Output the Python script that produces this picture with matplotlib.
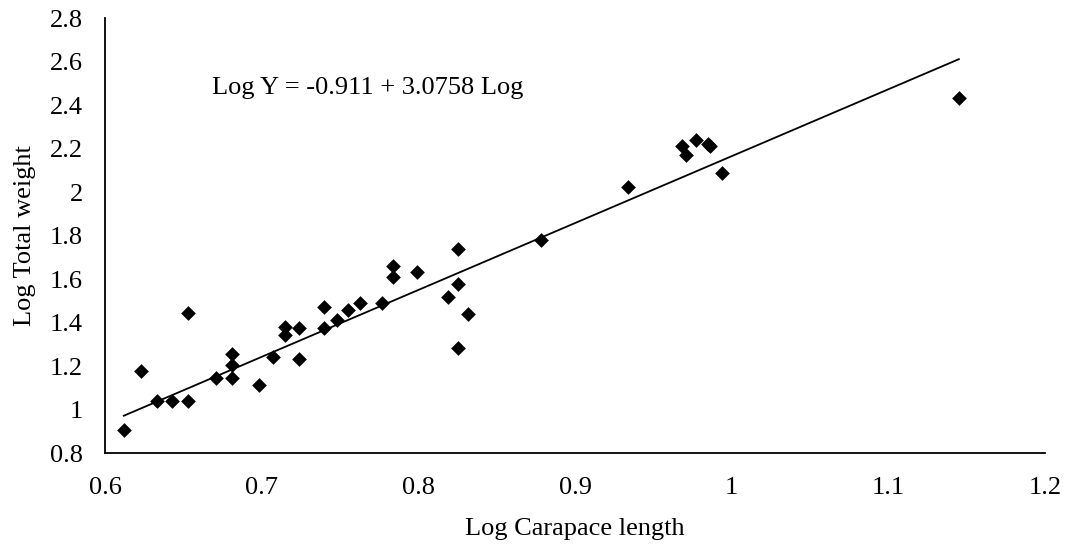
import matplotlib
matplotlib.use("Agg")
import matplotlib.pyplot as plt
import numpy as np

# Log carapace length vs log total weight
log_cl = [0.612, 0.623, 0.633, 0.643, 0.653, 0.653, 0.671, 0.681, 0.681, 0.681,
          0.698, 0.707, 0.715, 0.715, 0.724, 0.724, 0.740, 0.740, 0.748, 0.755,
          0.763, 0.777, 0.784, 0.784, 0.799, 0.819, 0.825, 0.825, 0.825, 0.832,
          0.878, 0.934, 0.968, 0.971, 0.977, 0.985, 0.986, 0.994, 1.145]
log_tw = [0.906, 1.177, 1.040, 1.040, 1.040, 1.445, 1.146, 1.146, 1.205, 1.255,
          1.113, 1.243, 1.378, 1.343, 1.373, 1.231, 1.473, 1.373, 1.411, 1.457,
          1.491, 1.491, 1.660, 1.611, 1.634, 1.519, 1.737, 1.576, 1.281, 1.438,
          1.779, 2.023, 2.211, 2.170, 2.239, 2.221, 2.212, 2.087, 2.431]

# regression from the equation printed on the chart
intercept = -0.911
slope = 3.0758
eq_label = "Log Y = -0.911 + 3.0758 Log"

x_ticks = [0.6, 0.7, 0.8, 0.9, 1.0, 1.1, 1.2]
x_tick_labels = ["0.6", "0.7", "0.8", "0.9", "1", "1.1", "1.2"]
y_ticks = [0.8, 1.0, 1.2, 1.4, 1.6, 1.8, 2.0, 2.2, 2.4, 2.6, 2.8]
y_tick_labels = ["0.8", "1", "1.2", "1.4", "1.6", "1.8", "2", "2.2", "2.4", "2.6", "2.8"]

plt.rcParams["font.family"] = ["Liberation Serif", "DejaVu Serif"]
FS = 19

fig = plt.figure(figsize=(10.68, 5.46), dpi=100)
ax = fig.add_axes([0.0983, 0.1703, 0.8802, 0.7967])

ax.scatter(log_cl, log_tw, marker="D", s=7.5 ** 2, color="black", zorder=3, linewidths=0)

xs = np.array([min(log_cl), max(log_cl)])
ax.plot(xs, intercept + slope * xs, color="black", lw=1.3, zorder=2)

ax.text(0.668, 2.48, eq_label, fontsize=FS, ha="left", va="center")

ax.set_xlim(0.6, 1.2)
ax.set_ylim(0.8, 2.8)
ax.set_xticks(x_ticks)
ax.set_xticklabels(x_tick_labels)
ax.set_yticks(y_ticks)
ax.set_yticklabels(y_tick_labels)
ax.tick_params(length=0, labelsize=FS)
ax.tick_params(axis="x", pad=17)
ax.tick_params(axis="y", pad=16)

ax.spines["top"].set_visible(False)
ax.spines["right"].set_visible(False)
for s in ["left", "bottom"]:
    ax.spines[s].set_linewidth(1.3)

ax.set_xlabel("Log Carapace length", fontsize=FS, labelpad=14)
ax.set_ylabel("Log Total weight", fontsize=FS, labelpad=10)

fig.savefig("out.png", dpi=100)
